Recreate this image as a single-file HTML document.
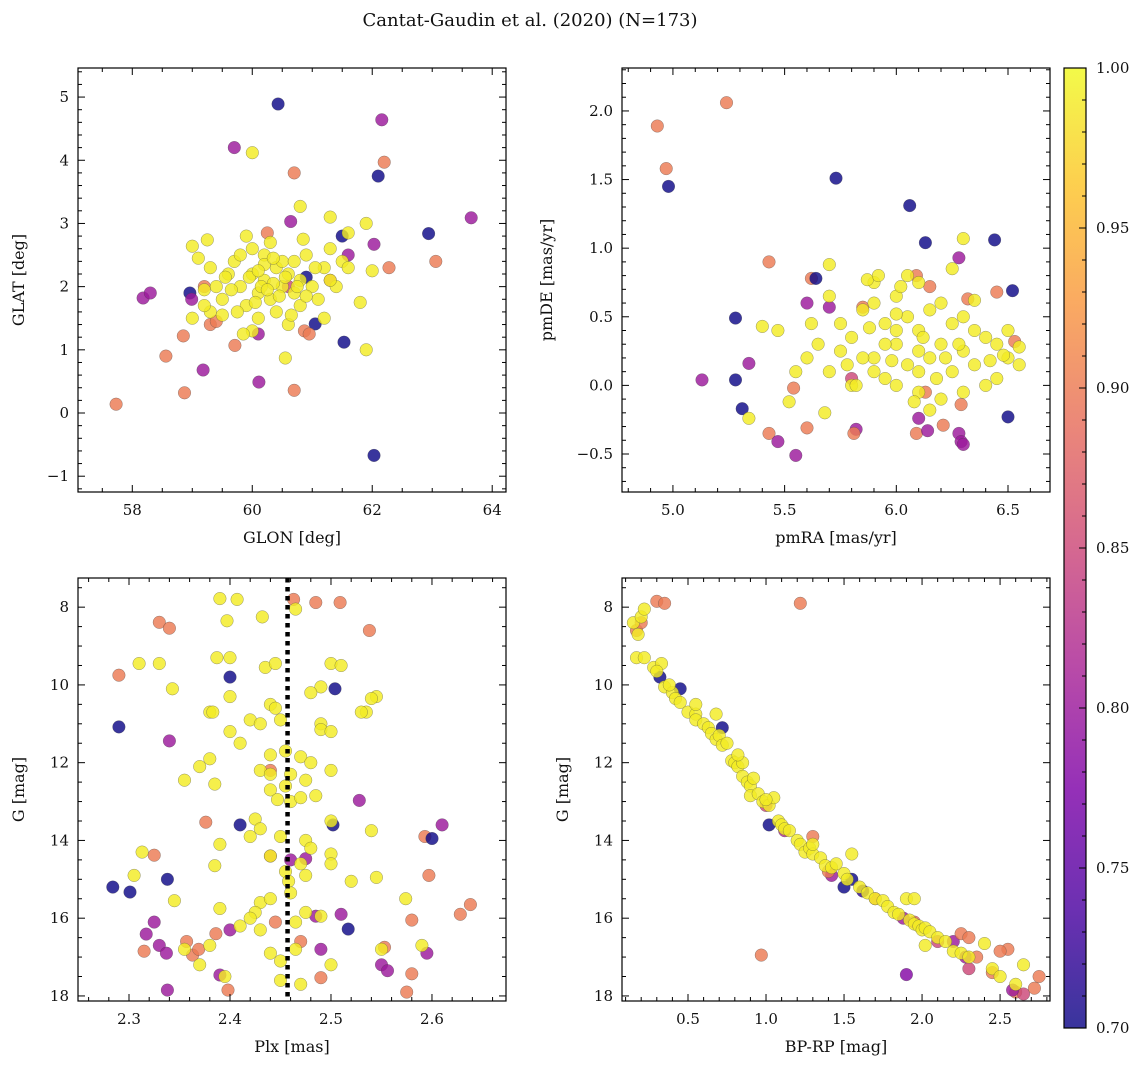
<!DOCTYPE html>
<html><head><meta charset="utf-8"><style>
body{margin:0;background:#fff;}
svg text{font-family:"DejaVu Serif","Liberation Serif",serif;fill:#111;}
</style></head><body>
<svg id="fig" width="1148" height="1068" viewBox="0 0 1148 1068" xmlns="http://www.w3.org/2000/svg">
<defs>
<linearGradient id="plasma" x1="0" y1="1" x2="0" y2="0">
<stop offset="0" stop-color="#0d0887"/><stop offset="0.125" stop-color="#4c02a1"/>
<stop offset="0.25" stop-color="#7e03a8"/><stop offset="0.375" stop-color="#a92395"/>
<stop offset="0.5" stop-color="#cc4778"/><stop offset="0.625" stop-color="#e66c5c"/>
<stop offset="0.75" stop-color="#f89540"/><stop offset="0.875" stop-color="#fdc328"/>
<stop offset="1" stop-color="#f0f921"/>
</linearGradient>
</defs>
<text x="530" y="26" font-size="18" text-anchor="middle">Cantat-Gaudin et al. (2020) (N=173)</text>
</svg>
<script>
// ---------- DATA ----------
const glonGlatYellow = [[60.0,2.2],[60.2,2.1],[60.4,2.3],[59.8,2.0],[60.1,1.9],[60.3,1.8],[60.5,2.0],[59.9,1.7],[60.6,2.2],[60.2,2.5],[59.7,2.4],[60.0,2.6],[60.8,2.1],[59.5,1.8],[60.4,1.6],[60.7,1.9],[59.6,2.2],[61.0,2.0],[60.9,2.5],[59.4,2.0],[60.3,2.7],[59.9,2.8],[61.2,2.3],[60.1,1.5],[59.3,1.6],[60.6,1.4],[59.2,1.7],[61.1,1.8],[61.3,2.6],[60.0,1.3],[59.0,1.5],[61.4,2.0],[59.8,2.5],[60.5,2.4],[60.2,2.35],[60.15,2.0],[59.95,2.15],[60.35,2.05],[60.05,1.75],[60.45,1.85],[59.65,1.95],[59.75,1.6],[60.8,1.7],[60.7,2.4],[61.5,2.4],[61.8,1.75],[59.1,2.45],[59.3,2.3],[60.85,2.75],[61.3,2.1],[61.6,2.85],[60.65,1.55],[59.5,1.55],[59.85,1.25],[60.25,1.95],[60.55,2.15],[60.1,2.25],[59.55,2.15],[60.75,2.0],[61.05,2.3],[60.9,1.85],[60.35,2.45],[59.2,1.95],[61.2,1.5],[61.9,1.0],[60.55,0.87],[61.9,3.0],[61.3,3.1],[60.8,3.27],[59.0,2.64],[59.25,2.74],[60.0,4.12],[62.0,2.25],[61.6,2.3]];
const glonGlatOther = [[57.73,0.14,0.9],[58.18,1.82,0.8],[58.3,1.9,0.8],[58.56,0.9,0.9],[58.85,1.22,0.9],[58.87,0.32,0.9],[58.96,1.9,0.7],[58.99,1.8,0.8],[59.18,0.68,0.8],[59.7,4.2,0.8],[60.43,4.89,0.7],[62.16,4.64,0.8],[62.2,3.97,0.9],[60.7,3.8,0.9],[62.1,3.75,0.7],[63.65,3.09,0.8],[62.94,2.84,0.7],[63.06,2.4,0.9],[62.28,2.3,0.9],[62.03,2.67,0.8],[61.53,1.12,0.7],[62.03,-0.67,0.7],[60.11,0.49,0.8],[60.7,0.36,0.9],[59.71,1.07,0.9],[60.1,1.25,0.8],[61.05,1.41,0.7],[60.87,1.3,0.9],[60.95,1.25,0.9],[60.64,3.03,0.8],[61.5,2.8,0.7],[61.6,2.5,0.8],[61.3,2.1,0.9],[59.3,1.4,0.9],[59.4,1.45,0.9],[60.25,2.85,0.9],[60.6,2.0,0.85],[59.2,2.0,0.9],[60.9,2.15,0.7]];

const pmYellow = [[6.0,0.3],[6.1,0.4],[5.9,0.2],[6.2,0.3],[5.8,0.35],[6.05,0.5],[6.15,0.2],[5.95,0.45],[6.3,0.25],[5.75,0.25],[6.4,0.35],[6.0,0.0],[6.1,-0.05],[5.9,0.1],[6.25,0.45],[5.85,0.55],[6.35,0.15],[6.45,0.3],[5.7,0.1],[6.5,0.2],[6.0,0.65],[6.2,0.6],[5.8,0.0],[5.65,0.3],[6.1,0.75],[5.9,0.75],[6.3,0.5],[6.45,0.05],[6.55,0.15],[5.75,0.45],[6.05,0.15],[6.15,0.55],[5.95,0.3],[6.25,0.1],[6.35,0.4],[5.85,0.2],[6.0,0.4],[6.1,0.25],[5.9,0.6],[6.2,-0.1],[6.3,-0.05],[5.6,0.2],[6.4,0.0],[5.7,0.65],[5.7,0.88],[5.87,0.77],[5.92,0.8],[6.05,0.8],[6.25,0.85],[6.3,1.07],[5.4,0.43],[5.34,-0.24],[5.68,-0.2],[6.5,0.4],[6.55,0.28],[5.47,0.4],[6.12,0.35],[5.98,0.18],[6.08,-0.12],[6.18,0.05],[5.82,0.0],[6.42,0.18],[6.0,0.52],[5.78,0.15],[5.62,0.45],[6.28,0.3],[6.35,0.62],[6.1,0.1],[5.95,0.05],[6.48,0.22],[5.88,0.42],[6.22,0.2],[6.02,0.72],[6.15,-0.18],[5.55,0.1],[5.52,-0.12]];
const pmOther = [[4.93,1.89,0.9],[4.97,1.58,0.9],[4.98,1.45,0.7],[5.24,2.06,0.9],[5.73,1.51,0.7],[6.06,1.31,0.7],[6.13,1.04,0.7],[6.44,1.06,0.7],[6.52,0.69,0.7],[6.45,0.68,0.9],[6.28,0.93,0.8],[5.28,0.49,0.7],[5.43,0.9,0.9],[5.13,0.04,0.8],[5.28,0.04,0.7],[5.31,-0.17,0.7],[5.34,0.16,0.8],[5.43,-0.35,0.9],[5.47,-0.41,0.8],[5.55,-0.51,0.8],[5.54,-0.02,0.9],[5.6,-0.31,0.9],[5.82,-0.32,0.8],[5.81,-0.35,0.9],[6.09,-0.35,0.9],[6.14,-0.33,0.8],[6.1,-0.24,0.8],[6.21,-0.29,0.9],[6.28,-0.35,0.8],[6.29,-0.41,0.8],[6.3,-0.43,0.8],[6.29,-0.14,0.9],[6.5,-0.23,0.7],[6.13,-0.05,0.9],[5.6,0.6,0.8],[5.62,0.78,0.9],[5.64,0.78,0.7],[5.7,0.57,0.8],[6.09,0.8,0.9],[6.32,0.63,0.9],[6.53,0.32,0.9],[5.85,0.57,0.9],[6.15,0.72,0.9],[5.8,0.05,0.85]];

const plxGYellow = [[2.407,7.8],[2.465,8.05],[2.432,8.25],[2.397,8.35],[2.33,9.45],[2.40,9.3],[2.387,9.3],[2.435,9.55],[2.445,9.45],[2.50,9.45],[2.51,9.5],[2.343,10.1],[2.545,10.3],[2.54,10.35],[2.49,10.05],[2.48,10.2],[2.40,10.3],[2.44,10.5],[2.38,10.7],[2.383,10.7],[2.535,10.7],[2.445,10.6],[2.42,10.9],[2.43,11.0],[2.45,10.9],[2.49,11.0],[2.49,11.15],[2.50,11.2],[2.40,11.2],[2.41,11.5],[2.38,11.9],[2.37,12.1],[2.44,11.8],[2.455,11.7],[2.47,11.85],[2.48,12.0],[2.43,12.2],[2.44,12.3],[2.46,12.3],[2.50,12.2],[2.455,12.6],[2.475,12.45],[2.355,12.45],[2.385,12.55],[2.44,12.7],[2.46,13.0],[2.47,12.9],[2.485,12.85],[2.447,12.95],[2.425,13.45],[2.50,13.5],[2.43,13.7],[2.45,13.9],[2.42,13.9],[2.475,14.0],[2.48,14.2],[2.50,14.35],[2.54,13.75],[2.39,14.1],[2.385,14.65],[2.44,14.4],[2.47,14.6],[2.50,14.6],[2.455,14.8],[2.458,15.05],[2.345,15.55],[2.43,15.6],[2.425,15.85],[2.44,15.5],[2.46,15.35],[2.475,14.9],[2.52,15.05],[2.545,14.95],[2.39,15.75],[2.41,16.2],[2.42,16.0],[2.43,16.3],[2.465,16.1],[2.475,15.85],[2.49,15.95],[2.38,16.7],[2.44,16.9],[2.465,16.8],[2.45,17.1],[2.50,17.2],[2.37,17.2],[2.395,17.5],[2.47,17.7],[2.55,16.8],[2.574,15.5],[2.59,16.7],[2.355,16.8],[2.313,14.3],[2.305,14.9],[2.31,9.45],[2.53,10.7],[2.45,17.6],[2.39,7.78]];
const plxGOther = [[2.284,15.2,0.7],[2.301,15.33,0.7],[2.29,11.08,0.7],[2.29,9.75,0.9],[2.33,8.39,0.9],[2.34,8.54,0.9],[2.34,11.44,0.8],[2.325,14.38,0.9],[2.338,15.0,0.7],[2.317,16.41,0.8],[2.315,16.85,0.9],[2.325,16.1,0.8],[2.33,16.7,0.8],[2.337,16.9,0.8],[2.338,17.85,0.8],[2.357,16.6,0.9],[2.363,16.95,0.9],[2.369,16.8,0.9],[2.386,16.4,0.9],[2.376,13.53,0.9],[2.398,17.85,0.9],[2.39,17.46,0.8],[2.4,16.3,0.8],[2.4,9.8,0.7],[2.41,13.6,0.7],[2.463,7.8,0.9],[2.485,7.88,0.9],[2.509,7.88,0.9],[2.538,8.6,0.9],[2.504,10.1,0.7],[2.502,13.6,0.7],[2.528,12.97,0.8],[2.475,14.47,0.8],[2.51,15.9,0.8],[2.485,15.95,0.8],[2.517,16.28,0.7],[2.55,17.2,0.8],[2.556,17.35,0.8],[2.553,16.75,0.9],[2.58,17.43,0.9],[2.575,17.9,0.9],[2.58,16.05,0.9],[2.597,14.9,0.9],[2.593,13.9,0.9],[2.6,13.95,0.7],[2.61,13.6,0.8],[2.628,15.9,0.9],[2.638,15.65,0.9],[2.595,16.9,0.8],[2.49,17.53,0.9],[2.49,16.8,0.8],[2.44,12.2,0.9],[2.445,16.1,0.9],[2.46,14.5,0.8],[2.47,16.6,0.9],[2.44,14.4,0.9]];

const cmdYellow = [[0.15,8.4],[0.2,8.25],[0.22,8.05],[0.18,8.7],[0.17,9.3],[0.22,9.3],[0.28,9.55],[0.33,9.45],[0.3,9.65],[0.35,10.05],[0.4,10.2],[0.38,10.0],[0.42,10.35],[0.45,10.45],[0.5,10.7],[0.55,10.75],[0.55,10.9],[0.6,11.0],[0.63,11.1],[0.65,11.25],[0.68,11.4],[0.68,10.75],[0.7,11.3],[0.72,11.55],[0.75,11.5],[0.78,11.95],[0.8,12.0],[0.82,12.1],[0.85,12.0],[0.85,12.35],[0.88,12.5],[0.9,12.6],[0.92,12.4],[0.9,12.85],[0.95,12.8],[0.98,13.0],[1.02,13.1],[1.05,12.9],[1.08,13.5],[1.1,13.6],[1.12,13.7],[1.15,13.75],[1.2,14.0],[1.22,14.1],[1.25,14.3],[1.28,14.2],[1.3,14.35],[1.35,14.45],[1.38,14.65],[1.42,14.7],[1.45,14.6],[1.5,14.85],[1.52,15.0],[1.55,14.35],[1.6,15.2],[1.65,15.35],[1.7,15.5],[1.75,15.55],[1.78,15.7],[1.82,15.85],[1.85,15.9],[1.9,15.5],[1.92,16.05],[1.95,16.15],[1.98,16.2],[2.0,16.3],[2.02,16.25],[2.05,16.35],[2.1,16.5],[2.15,16.6],[2.2,16.85],[2.25,16.9],[2.3,17.0],[2.4,16.65],[2.45,17.3],[2.5,17.5],[2.6,17.7],[2.65,17.2],[1.95,15.5],[1.0,12.95],[0.55,10.5],[0.82,11.8],[1.3,14.1],[2.02,16.7]];
const cmdOther = [[0.17,8.6,0.9],[0.2,8.4,0.9],[0.3,7.85,0.9],[0.35,7.9,0.9],[1.22,7.9,0.9],[0.32,9.8,0.7],[0.45,10.1,0.7],[0.72,11.1,0.7],[1.02,13.6,0.7],[1.3,13.9,0.9],[1.55,15.0,0.7],[1.5,15.2,0.7],[1.42,14.9,0.8],[1.62,15.3,0.72],[1.12,13.75,0.82],[0.97,16.95,0.9],[1.9,17.45,0.78],[1.88,16.0,0.8],[1.95,16.1,0.88],[2.1,16.6,0.85],[2.2,16.6,0.8],[2.25,16.4,0.9],[2.3,16.5,0.9],[2.28,17.0,0.8],[2.3,17.3,0.85],[2.35,17.0,0.9],[2.45,17.4,0.9],[2.55,16.8,0.9],[2.5,16.85,0.9],[2.6,17.9,0.9],[2.65,17.95,0.85],[2.75,17.5,0.9],[2.72,17.8,0.9],[2.58,17.85,0.8],[1.7,15.5,0.9],[1.4,14.8,0.9],[1.0,13.1,0.85]];

const plxMedian = 2.457;
const cbTicks = [0.70,0.75,0.80,0.85,0.90,0.95,1.00];

// ---------- DRAWING ----------
const NS = "http://www.w3.org/2000/svg";
const svg = document.getElementById('fig');
function mk(tag, attrs, parent){ const e=document.createElementNS(NS,tag); for(const k in attrs) e.setAttribute(k,attrs[k]); (parent||svg).appendChild(e); return e; }
const stops=[[0,[13,8,135]],[0.125,[76,2,161]],[0.25,[126,3,168]],[0.375,[169,35,149]],[0.5,[204,71,120]],[0.625,[230,108,92]],[0.75,[248,149,64]],[0.875,[253,195,40]],[1,[240,249,33]]];
function plasma(p){ let t=Math.max(0,Math.min(1,(p-0.7)/0.3)); for(let i=1;i<stops.length;i++){ if(t<=stops[i][0]){ const a=stops[i-1],b=stops[i]; const f=(t-a[0])/(b[0]-a[0]); const c=a[1].map((v,j)=>Math.round(v+(b[1][j]-v)*f)); return `rgb(${c})`; } } return 'rgb(240,249,33)'; }

function panel(cfg){
  const g=mk('g',{});
  
  
  const {L,R,T,B}=cfg;
  const sx=v=>L+(v-cfg.x0)/(cfg.x1-cfg.x0)*(R-L);
  const sy=cfg.invert? v=>T+(v-cfg.y0)/(cfg.y1-cfg.y0)*(B-T) : v=>B-(v-cfg.y0)/(cfg.y1-cfg.y0)*(B-T);
  const pts=mk('g',{},g);
  
  
  const draw=(arr,yellow)=>arr.forEach(d=>{
    const c=mk('circle',{cx:sx(d[0]).toFixed(1),cy:sy(d[1]).toFixed(1),r:6.3,fill:plasma(yellow?0.99:d[2]),'fill-opacity':0.82,stroke:'#444','stroke-width':0.5,'stroke-opacity':0.55},pts);
    
    
  });
  draw(cfg.other,false); draw(cfg.yellow,true);
  if(cfg.vline!==undefined){
    const l=mk('line',{x1:sx(cfg.vline),x2:sx(cfg.vline),y1:T,y2:B,stroke:'#000','stroke-width':4.5,'stroke-dasharray':'4.5,4.5'},g);
    
    
  }
  const frame=mk('rect',{x:L,y:T,width:R-L,height:B-T,fill:'none',stroke:'#000','stroke-width':1.2},g);
  
  
  const ax=mk('g',{stroke:'#000','stroke-width':1},g);
  for(let v=Math.ceil(cfg.x0/cfg.xmin-1e-6)*cfg.xmin; v<=cfg.x1+1e-9; v+=cfg.xmin){
    const major=Math.abs(v/cfg.xmaj-Math.round(v/cfg.xmaj))<1e-6; const len=major?7:4; const x=sx(v);
    mk('line',{x1:x,x2:x,y1:B,y2:B-len},ax); mk('line',{x1:x,x2:x,y1:T,y2:T+len},ax);
    if(major){ const t=mk('text',{x:x,y:B+23,'font-size':15,'text-anchor':'middle'},g); t.textContent=(Math.round(v*1e6)/1e6).toFixed(cfg.xdec);
        }
  }
  for(let v=Math.ceil(cfg.y0/cfg.ymin-1e-6)*cfg.ymin; v<=cfg.y1+1e-9; v+=cfg.ymin){
    const major=Math.abs(v/cfg.ymaj-Math.round(v/cfg.ymaj))<1e-6; const len=major?7:4; const y=sy(v);
    mk('line',{x1:L,x2:L+len,y1:y,y2:y},ax); mk('line',{x1:R,x2:R-len,y1:y,y2:y},ax);
    if(major){ let s=(Math.round(v*1e6)/1e6).toFixed(cfg.ydec); if(s.startsWith('-')) s='\u2212'+s.slice(1); if(s==='\u22120.0'||s==='\u22120') s=s.slice(1);
      const t=mk('text',{x:L-9,y:y+5,'font-size':15,'text-anchor':'end'},g); t.textContent=s;
        }
  }
  const xl=mk('text',{x:(L+R)/2,y:B+51,'font-size':16,'text-anchor':'middle'},g); xl.textContent=cfg.xlabel;
   
  const yl=mk('text',{x:0,y:0,'font-size':16,'text-anchor':'middle',transform:`translate(${cfg.ylx},${(T+B)/2}) rotate(-90)`},g); yl.textContent=cfg.ylabel;
   
}

panel({name:'glon-glat-panel',L:78,R:506,T:68,B:492,x0:57.095,x1:64.23,y0:-1.25,y1:5.46,xmaj:2,xmin:0.5,ymaj:1,ymin:0.2,xdec:0,ydec:0,xlabel:'GLON [deg]',ylabel:'GLAT [deg]',ylx:24,yellow:glonGlatYellow,other:glonGlatOther});
panel({name:'proper-motion-panel',L:622,R:1050,T:68,B:492,x0:4.772,x1:6.688,y0:-0.777,y1:2.313,xmaj:0.5,xmin:0.1,ymaj:0.5,ymin:0.1,xdec:1,ydec:1,xlabel:'pmRA [mas/yr]',ylabel:'pmDE [mas/yr]',ylx:552,yellow:pmYellow,other:pmOther});
panel({name:'parallax-mag-panel',L:78,R:506,T:578,B:1001,x0:2.2495,x1:2.6733,y0:7.25,y1:18.13,invert:true,xmaj:0.1,xmin:0.02,ymaj:2,ymin:0.5,xdec:1,ydec:0,xlabel:'Plx [mas]',ylabel:'G [mag]',ylx:24,yellow:plxGYellow,other:plxGOther,vline:plxMedian});
panel({name:'cmd-panel',L:622,R:1050,T:578,B:1001,x0:0.077,x1:2.82,y0:7.25,y1:18.13,invert:true,xmaj:0.5,xmin:0.1,ymaj:2,ymin:0.5,xdec:1,ydec:0,xlabel:'BP-RP [mag]',ylabel:'G [mag]',ylx:568,yellow:cmdYellow,other:cmdOther});

const cb=mk('g',{});


const CT=68,CB=1028,CL=1064,CR=1086;
mk('rect',{x:CL,y:CT,width:CR-CL,height:CB-CT,fill:'url(#plasma)','fill-opacity':0.82},cb);
mk('rect',{x:CL,y:CT,width:CR-CL,height:CB-CT,fill:'none',stroke:'#000','stroke-width':1.2},cb);
const cy=v=>CB-(v-0.7)/0.3*(CB-CT);
for(let i=0;i<=30;i++){ const v=0.7+i*0.01; const y=cy(v); const major=i%5===0;
  mk('line',{x1:CR,x2:CR-(major?7:4),y1:y,y2:y,stroke:'#000','stroke-width':1},cb); }
cbTicks.forEach(v=>{ const t=mk('text',{x:CR+10,y:cy(v)+5,'font-size':15},cb); t.textContent=v.toFixed(2);
    });
</script>
</body></html>
